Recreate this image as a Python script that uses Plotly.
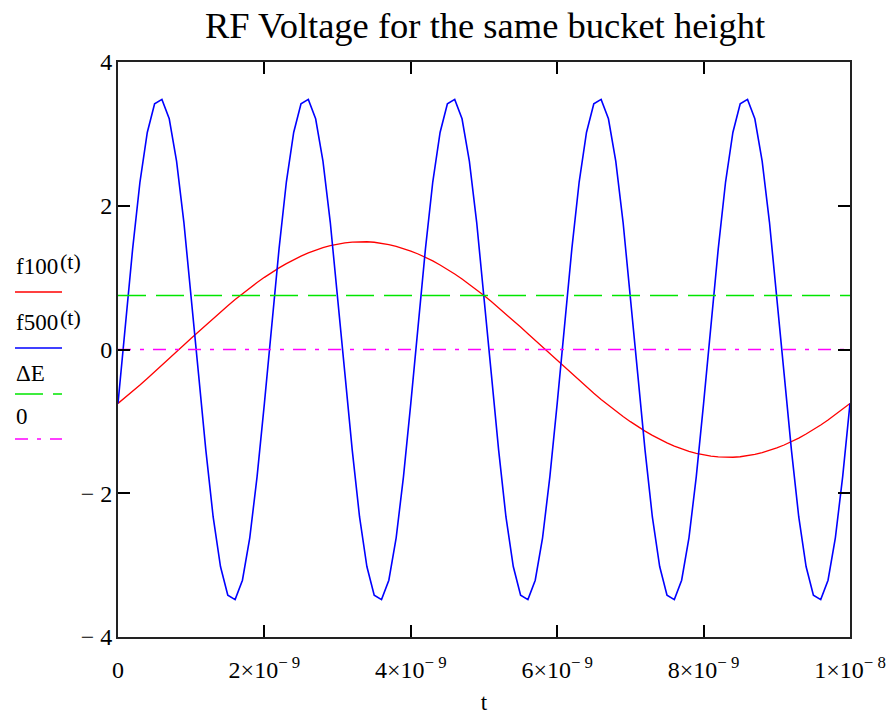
import plotly.graph_objects as go

# time samples (s)
t_vals = [k * 1e-10 for k in range(101)]

f100_vals = [
    -0.750, -0.667, -0.581, -0.493, -0.403, -0.312, -0.219, -0.126, -0.031, 0.063,
    0.157, 0.250, 0.343, 0.434, 0.523, 0.610, 0.695, 0.777, 0.856, 0.932,
    1.004, 1.072, 1.136, 1.195, 1.249, 1.299, 1.344, 1.383, 1.417, 1.445,
    1.467, 1.484, 1.495, 1.500, 1.499, 1.492, 1.479, 1.460, 1.436, 1.406,
    1.370, 1.329, 1.283, 1.232, 1.176, 1.115, 1.050, 0.980, 0.907, 0.830,
    0.750, 0.667, 0.581, 0.493, 0.403, 0.312, 0.219, 0.126, 0.031, -0.063,
    -0.157, -0.250, -0.343, -0.434, -0.523, -0.610, -0.695, -0.777, -0.856, -0.932,
    -1.004, -1.072, -1.136, -1.195, -1.249, -1.299, -1.344, -1.383, -1.417, -1.445,
    -1.467, -1.484, -1.495, -1.500, -1.499, -1.492, -1.479, -1.460, -1.436, -1.406,
    -1.370, -1.329, -1.283, -1.232, -1.176, -1.115, -1.050, -0.980, -0.907, -0.830,
    -0.750,
]

f500_vals = [
    -0.75, 0.34, 1.40, 2.33, 3.02, 3.42, 3.48, 3.21, 2.62, 1.77,
    0.75, -0.34, -1.40, -2.33, -3.02, -3.42, -3.48, -3.21, -2.62, -1.77,
    -0.75, 0.34, 1.40, 2.33, 3.02, 3.42, 3.48, 3.21, 2.62, 1.77,
    0.75, -0.34, -1.40, -2.33, -3.02, -3.42, -3.48, -3.21, -2.62, -1.77,
    -0.75, 0.34, 1.40, 2.33, 3.02, 3.42, 3.48, 3.21, 2.62, 1.77,
    0.75, -0.34, -1.40, -2.33, -3.02, -3.42, -3.48, -3.21, -2.62, -1.77,
    -0.75, 0.34, 1.40, 2.33, 3.02, 3.42, 3.48, 3.21, 2.62, 1.77,
    0.75, -0.34, -1.40, -2.33, -3.02, -3.42, -3.48, -3.21, -2.62, -1.77,
    -0.75, 0.34, 1.40, 2.33, 3.02, 3.42, 3.48, 3.21, 2.62, 1.77,
    0.75, -0.34, -1.40, -2.33, -3.02, -3.42, -3.48, -3.21, -2.62, -1.77,
    -0.75,
]

delta_E = 0.75
zero_level = 0.0
t_range = [0.0, 1e-8]

x_tick_vals = [0, 2e-9, 4e-9, 6e-9, 8e-9, 1e-8]
x_tick_text = ["0", "2×10<sup>− 9</sup>", "4×10<sup>− 9</sup>", "6×10<sup>− 9</sup>",
               "8×10<sup>− 9</sup>", "1×10<sup>− 8</sup>"]
y_tick_vals = [-4, -2, 0, 2, 4]
y_tick_text = ["− 4", "− 2", "0", "2", "4"]

legend_names = ["f100", "f500", "ΔE", "0"]
legend_args = ["(t)", "(t)", "", ""]

FONT = "Liberation Serif, Times New Roman, serif"
GREEN = "#00e600"
MAGENTA = "#ff00ff"
GREEN_DASH = "28px,10px"
MAG_DASH = "13px,9px,4px,9px"

fig = go.Figure()
fig.add_trace(go.Scatter(x=t_vals, y=f100_vals, mode="lines",
                         line=dict(color="#ff0000", width=1.3)))
fig.add_trace(go.Scatter(x=t_vals, y=f500_vals, mode="lines",
                         line=dict(color="#0000ff", width=1.6)))
fig.add_trace(go.Scatter(x=t_range, y=[delta_E, delta_E], mode="lines",
                         line=dict(color=GREEN, width=1.5, dash=GREEN_DASH)))
fig.add_trace(go.Scatter(x=t_range, y=[zero_level, zero_level], mode="lines",
                         line=dict(color=MAGENTA, width=1.5, dash=MAG_DASH)))

# figure pixel geometry (page is offset by the 8px body margin)
OFF = 8
W_FIG, H_FIG = 895 - OFF, 715 - OFF
L, R, T, B = 118 - OFF, 850 - OFF, 62 - OFF, 637 - OFF
PW, PH = R - L, B - T
def px(x): return (x - OFF - L) / PW
def py(y): return (B - (y - OFF)) / PH

# legend (Mathcad style, left of the plot) - positions in reference page pixels
legend_text_y = [266, 322, 374, 416]
legend_line_y = [292, 348, 394, 439]
legend_styles = [
    dict(color="#ff0000", width=1.5),
    dict(color="#0000ff", width=1.5),
    dict(color=GREEN, width=1.5, dash=GREEN_DASH),
    dict(color=MAGENTA, width=1.5, dash=MAG_DASH),
]
for name, arg, ty, ly, st in zip(legend_names, legend_args, legend_text_y,
                                 legend_line_y, legend_styles):
    fig.add_annotation(x=px(14), y=py(ty), xref="paper", yref="paper", text=name,
                       showarrow=False, xanchor="left", yanchor="middle",
                       font=dict(family=FONT, size=23, color="black"))
    if arg:
        fig.add_annotation(x=px(58), y=py(ty - 5), xref="paper", yref="paper", text=arg,
                           showarrow=False, xanchor="left", yanchor="middle",
                           font=dict(family=FONT, size=22, color="black"))
    fig.add_shape(type="line", xref="paper", yref="paper",
                  x0=px(15), x1=px(62), y0=py(ly), y1=py(ly), line=st)

fig.update_layout(
    width=W_FIG, height=H_FIG,
    margin=dict(l=L, r=W_FIG - R, t=T, b=H_FIG - B, autoexpand=False),
    paper_bgcolor="white", plot_bgcolor="white",
    showlegend=False,
    font=dict(family=FONT, size=23, color="black"),
    title=dict(text="RF Voltage for the same bucket height", x=px(485), xref="paper",
               xanchor="center", y=1 - (25 - OFF) / H_FIG, yref="container", yanchor="middle",
               font=dict(family=FONT, size=36.5, color="black")),
)
fig.update_xaxes(range=t_range, tickmode="array", tickvals=x_tick_vals, ticktext=x_tick_text,
                 showgrid=False, zeroline=False, showline=True, mirror="ticks",
                 linecolor="#222", linewidth=2, ticks="inside", ticklen=12, tickwidth=1.5,
                 tickcolor="black", ticklabelstandoff=10, automargin=False,
                 tickfont=dict(family=FONT, size=24),
                 title=dict(text="t", standoff=16, font=dict(family=FONT, size=23)))
fig.update_yaxes(range=[-4, 4], tickmode="array", tickvals=y_tick_vals, ticktext=y_tick_text,
                 showgrid=False, zeroline=False, showline=True, mirror="ticks",
                 linecolor="#222", linewidth=2, ticks="inside", ticklen=12, tickwidth=1.5,
                 tickcolor="black", ticklabelstandoff=-1, automargin=False,
                 tickfont=dict(family=FONT, size=24))

fig.write_html("out.html")
